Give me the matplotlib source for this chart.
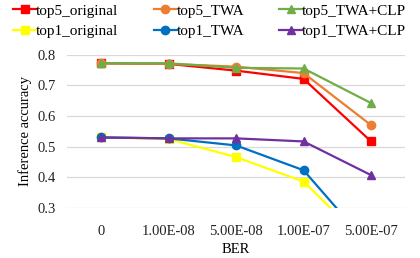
import matplotlib.pyplot as plt
import numpy as np

plt.rcParams['font.family'] = ['Liberation Serif', 'DejaVu Serif']

ber_labels = ['0', '1.00E-08', '5.00E-08', '1.00E-07', '5.00E-07']

top5_original = [0.772, 0.770, 0.748, 0.721, 0.517]
top5_twa = [0.772, 0.770, 0.761, 0.740, 0.570]
top5_twa_clp = [0.772, 0.772, 0.757, 0.755, 0.642]
top1_original = [0.530, 0.525, 0.466, 0.386, 0.17]
top1_twa = [0.530, 0.527, 0.504, 0.423, 0.17]
top1_twa_clp = [0.530, 0.527, 0.527, 0.517, 0.407]

series = [
    ('top5_original', top5_original, '#FF0000', 's'),
    ('top5_TWA', top5_twa, '#ED7D31', 'o'),
    ('top5_TWA+CLP', top5_twa_clp, '#70AD47', '^'),
    ('top1_original', top1_original, '#FFFF00', 's'),
    ('top1_TWA', top1_twa, '#0070C0', 'o'),
    ('top1_TWA+CLP', top1_twa_clp, '#7030A0', '^'),
]

fig = plt.figure(figsize=(4.2, 2.58), dpi=100)
ax = fig.add_axes([0.16, 0.194, 0.804, 0.594])

x = np.arange(len(ber_labels))
lines = []
for name, vals, color, marker in series:
    ln, = ax.plot(x, vals, color=color, marker=marker, markersize=6, linewidth=1.6, label=name)
    lines.append(ln)

ax.set_xlim(-0.5, len(ber_labels) - 0.5)
ax.set_ylim(0.3, 0.8)
ax.set_yticks([0.3, 0.4, 0.5, 0.6, 0.7, 0.8])
ax.set_yticklabels(['0.3', '0.4', '0.5', '0.6', '0.7', '0.8'])
ax.set_xticks(x)
ax.set_xticklabels(ber_labels)
ax.grid(axis='y', color='#D9D9D9', linewidth=0.9)
ax.set_axisbelow(True)
for s in ax.spines.values():
    s.set_visible(False)
ax.tick_params(length=0, labelsize=10.5, colors='#222222', pad=8)
ax.tick_params(axis='x', pad=12)
ax.set_xlabel('BER', fontsize=10.5, labelpad=4)
ax.set_ylabel('Inference accuracy', fontsize=10.5, labelpad=4)

# legend fills column-wise, so interleave to get row-wise order
order = [0, 3, 1, 4, 2, 5]
fig.legend([lines[i] for i in order], [series[i][0] for i in order],
           loc='upper left', bbox_to_anchor=(0.01, 1.02), ncol=3, frameon=False,
           fontsize=11, handlelength=1.5, handletextpad=0.0, columnspacing=2.3,
           labelspacing=0.45, borderaxespad=0.2)

fig.savefig('out.png', dpi=100)
